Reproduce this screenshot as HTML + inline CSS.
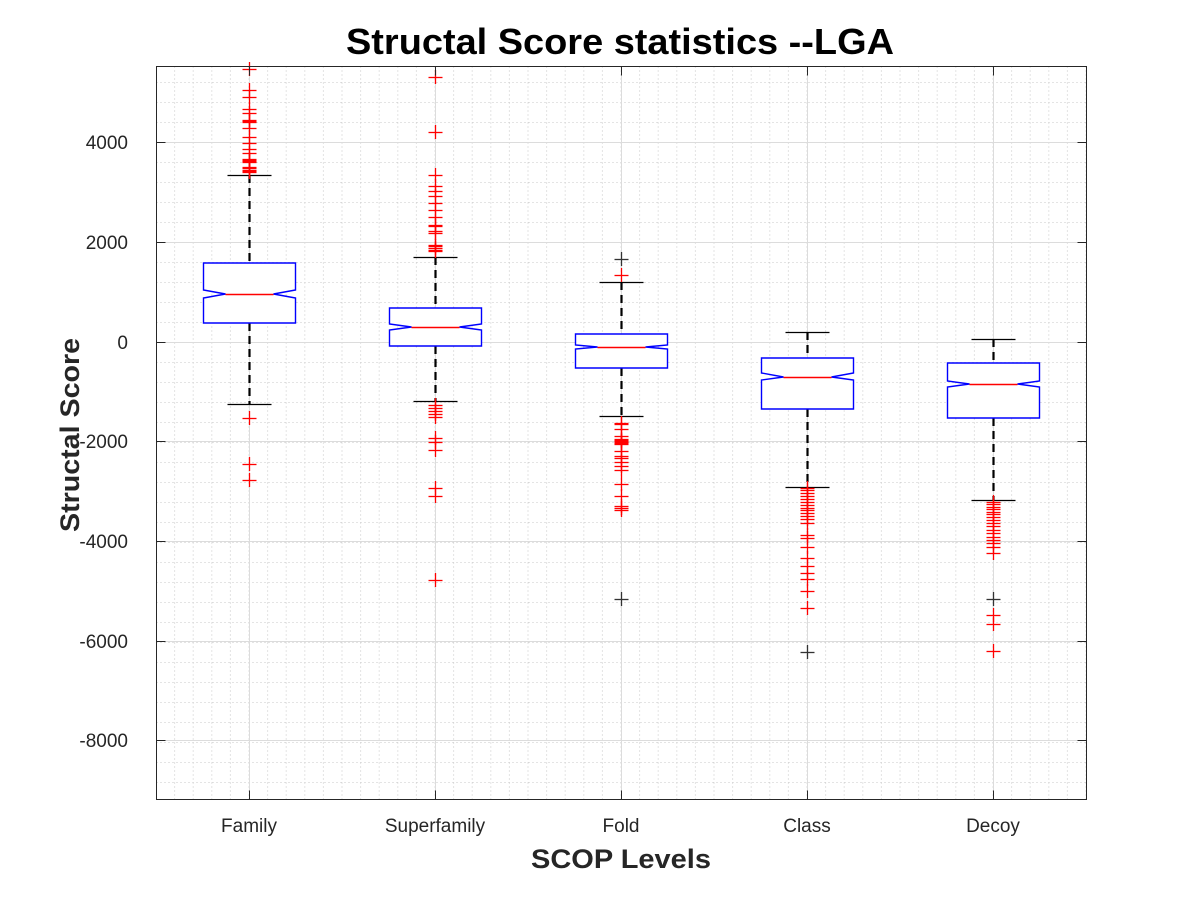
<!DOCTYPE html>
<html><head><meta charset="utf-8"><style>
html,body{margin:0;padding:0;background:#fff;}
svg{display:block;font-family:"Liberation Sans",Arial,sans-serif;}
</style></head><body>
<svg id="s" width="1200" height="900" viewBox="0 0 1200 900" xmlns="http://www.w3.org/2000/svg">
<rect x="0" y="0" width="1200" height="900" fill="#fff"/>
<g id="grid"></g>
<g id="plot"></g>
<rect x="156.5" y="66.5" width="930" height="733" fill="none" stroke="#262626" stroke-width="1"/>
<g id="ticks"></g>
<text x="620" y="54" text-anchor="middle" font-size="36" font-weight="bold" fill="#000" textLength="548" lengthAdjust="spacingAndGlyphs">Structal Score statistics --LGA</text>
<text x="621" y="868" text-anchor="middle" font-size="27" font-weight="bold" fill="#262626" textLength="180" lengthAdjust="spacingAndGlyphs">SCOP Levels</text>
<text transform="translate(79,435) rotate(-90)" text-anchor="middle" font-size="27" font-weight="bold" fill="#262626" textLength="194" lengthAdjust="spacingAndGlyphs">Structal Score</text>
</svg>
<script>
var NS="http://www.w3.org/2000/svg";
function el(p,t,a){var e=document.createElementNS(NS,t);for(var k in a)e.setAttribute(k,a[k]);document.getElementById(p).appendChild(e);return e;}
var L=156.5,R=1086.5,T=66.5,B=799.5;
// minor horizontal grid every 20px
for(var y=342;y>T;y-=20){if(y<B)el('grid','line',{x1:L,x2:R,y1:y+.5,y2:y+.5,stroke:'#c8c8c8','stroke-dasharray':'1,3','stroke-width':1});}
for(var y=362;y<B;y+=20){el('grid','line',{x1:L,x2:R,y1:y+.5,y2:y+.5,stroke:'#c8c8c8','stroke-dasharray':'1,3','stroke-width':1});}
var cx=[249,435,621,807,993];
// minor vertical every 18.6
for(var x=249-18.6*5;x<R;x+=18.6){if(x>L+1)el('grid','line',{x1:x,x2:x,y1:T,y2:B,stroke:'#c8c8c8','stroke-dasharray':'1,3','stroke-width':1});}
// major grid
var ys=[142,242,342,441,541,641,740];var yl=['4000','2000','0','-2000','-4000','-6000','-8000'];
ys.forEach(function(y,i){el('grid','line',{x1:L,x2:R,y1:y+.5,y2:y+.5,stroke:'#dcdcdc','stroke-width':1});
el('ticks','line',{x1:L,x2:L+9,y1:y+.5,y2:y+.5,stroke:'#262626'});
el('ticks','line',{x1:R-9,x2:R,y1:y+.5,y2:y+.5,stroke:'#262626'});
var t=el('ticks','text',{x:128,y:y+7,'text-anchor':'end','font-size':19,fill:'#262626'});t.textContent=yl[i];});
var names=['Family','Superfamily','Fold','Class','Decoy'];
cx.forEach(function(x,i){el('grid','line',{x1:x+.5,x2:x+.5,y1:T,y2:B,stroke:'#dcdcdc'});
el('ticks','line',{x1:x+.5,x2:x+.5,y1:B-9,y2:B,stroke:'#262626'});
el('ticks','line',{x1:x+.5,x2:x+.5,y1:T,y2:T+9,stroke:'#262626'});
var t=el('ticks','text',{x:x,y:832,'text-anchor':'middle','font-size':19,fill:'#262626'});t.textContent=names[i];});
// boxes: [top,bottom,median,notchTop,notchBot,whiskTop,whiskBot]
var bx=[[263,323,294,290,298,175,404],[308,346,327,324,330,257,401],[334,368,347,345,349,282,416],[358,409,377,373,380,332,487],[363,418,384,381,387,339,500]];
var outs=[
[69,90,97,109,113,120,121,122,128,137,143,149,153,159,160,161,162,167,168,170,171,172,418,464,480],
[77,132,175,186,191,196,203,210,217,225,226,231,233,245,246,248,250,251,405,408,411,414,417,438,442,450,488,496,580],
[259,275,423,424,429,436,439,440,441,442,443,444,451,456,458,462,466,470,484,496,506,508,510,599],
[488,490,493,496,499,502,505,508,510,513,516,519,523,535,538,547,558,566,573,579,591,608,652],
[502,504,507,509,512,514,517,520,523,526,530,533,537,540,543,547,553,599,615,624,651]];
var dark={'2_0':1,'2_23':1,'3_22':1,'4_17':1};
bx.forEach(function(b,i){var x=cx[i]+.5;
el('plot','line',{x1:x,x2:x,y1:b[5],y2:b[0],stroke:'#000','stroke-width':2.2,'stroke-dasharray':'8,5'});
el('plot','line',{x1:x,x2:x,y1:b[1],y2:b[6],stroke:'#000','stroke-width':2.2,'stroke-dasharray':'8,5'});
el('plot','line',{x1:x-22,x2:x+22,y1:b[5]+.5,y2:b[5]+.5,stroke:'#000','stroke-width':1.2});
el('plot','line',{x1:x-22,x2:x+22,y1:b[6]+.5,y2:b[6]+.5,stroke:'#000','stroke-width':1.2});
var w=46,n=24;
var p=[[x-w,b[0]],[x+w,b[0]],[x+w,b[3]],[x+n,b[2]],[x+w,b[4]],[x+w,b[1]],[x-w,b[1]],[x-w,b[4]],[x-n,b[2]],[x-w,b[3]]];
el('plot','polygon',{points:p.map(function(q){return q.join(',')}).join(' '),fill:'#fff',stroke:'#0000ff','stroke-width':1.4});
el('plot','line',{x1:x-n,x2:x+n,y1:b[2]+.5,y2:b[2]+.5,stroke:'#ff0000','stroke-width':1.4});
outs[i].forEach(function(y,j){var c=dark[i+'_'+j]?'#333':'#ff0000';
el('plot','line',{x1:x-7,x2:x+7,y1:y+.5,y2:y+.5,stroke:c,'stroke-width':1.3});
el('plot','line',{x1:x,x2:x,y1:y-7,y2:y+7,stroke:c,'stroke-width':1.3});});
});
</script>
</body></html>
